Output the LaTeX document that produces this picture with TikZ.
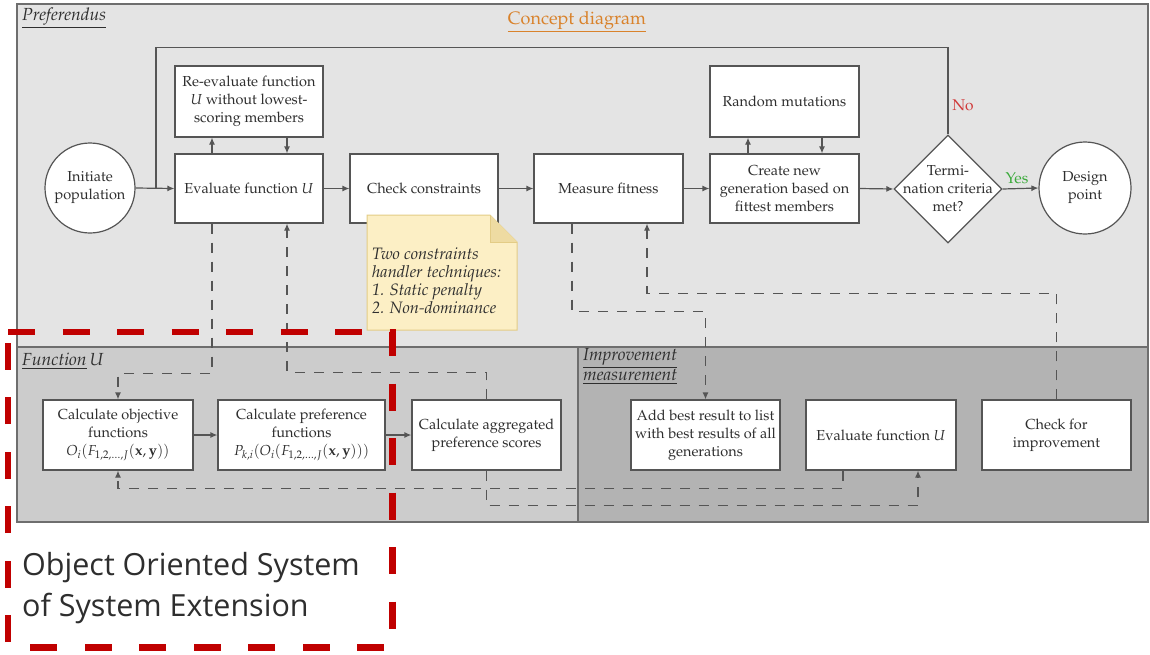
\documentclass[tikz,border=0pt]{standalone}
\usepackage{fontspec}
\newfontfamily\capfont{Open Sans}
\usepackage[T1]{fontenc}
\usepackage{mathpazo}
\usetikzlibrary{shapes.geometric,arrows.meta}

\definecolor{panelA}{HTML}{E4E4E4}
\definecolor{panelB}{HTML}{CCCCCC}
\definecolor{panelC}{HTML}{B3B3B3}
\definecolor{panelline}{HTML}{6E6E6E}
\definecolor{boxline}{HTML}{555555}
\definecolor{txt}{HTML}{2E2E2E}
\definecolor{dashclr}{HTML}{555555}
\definecolor{orangetitle}{HTML}{D9822B}
\definecolor{noteFill}{HTML}{FCEFC5}
\definecolor{noteEdge}{HTML}{E3CC86}
\definecolor{noteFold}{HTML}{EEDBA2}
\definecolor{framered}{HTML}{C00000}
\definecolor{nored}{HTML}{D03A3A}
\definecolor{yesgreen}{HTML}{3BAA3B}

\newcommand{\bodyfont}{\fontsize{14.5}{18}\selectfont}
\newcommand{\titlefont}{\fontsize{17.5}{19}\selectfont}

\begin{document}
\begin{tikzpicture}[x=1pt,y=-1pt,
  box/.style={draw=boxline, fill=white, line width=1.2pt, text=txt, align=center,
    inner sep=2pt, font=\bodyfont},
  roundnode/.style={circle, draw=boxline, fill=white, line width=1.2pt, text=txt,
    align=center, inner sep=0pt, font=\bodyfont},
  conn/.style={draw=boxline, line width=1.2pt},
  arr/.style={-{Latex[length=7pt,width=6pt]}},
  dsh/.style={draw=dashclr, line width=1.2pt, dash pattern=on 10pt off 9pt},
  lbl/.style={text=txt, font=\bodyfont, inner sep=0pt}
]
\useasboundingbox (0,0) rectangle (1150,654);
\fill[white] (0,0) rectangle (1150,654);

% panels
\fill[panelA] (17,4) rectangle (1148,347);
\fill[panelB] (17,347) rectangle (578,522);
\fill[panelC] (578,347) rectangle (1148,522);
\draw[panelline, line width=1.3pt] (17,4) rectangle (1148,522);
\draw[panelline, line width=1.3pt] (17,347) -- (1148,347);
\draw[panelline, line width=1.3pt] (578,347) -- (578,522);

% panel titles
\node[lbl, anchor=west, font=\titlefont] (tpref) at (22,18) {\underline{\textit{Preferendus}}};
\node[lbl, text=orangetitle, font=\fontsize{18}{20}\selectfont] (tconcept) at (577,22) {\underline{Concept diagram}};
\node[lbl, anchor=west, font=\titlefont] (tfunc) at (22,361) {\underline{\textit{Function}}\,$U$};
\node[lbl, anchor=north west, align=left, font=\titlefont] (timpr) at (583,348) {\underline{\textit{Improvement}}\\\underline{\textit{measurement}}};

% main loop nodes
\node[roundnode, minimum size=90pt] (init) at (90,188) {Initiate\\population};
\node[box, minimum width=148pt, minimum height=69pt] (eval) at (249,188.5) {Evaluate function $U$};
\node[box, minimum width=148pt, minimum height=71pt] (reeval) at (249,101.5) {Re-evaluate function\\$U$ without lowest-\\scoring members};
\node[box, minimum width=148pt, minimum height=69pt] (check) at (424,188.5) {Check constraints};
\node[box, minimum width=149pt, minimum height=69pt] (measure) at (608.5,188.5) {Measure fitness};
\node[box, minimum width=149pt, minimum height=69pt] (create) at (784.5,188.5) {Create new\\generation based on\\fittest members};
\node[box, minimum width=149pt, minimum height=71pt] (random) at (784.5,101.5) {Random mutations};
\node[diamond, aspect=1, draw=boxline, fill=white, line width=1.2pt, minimum size=108pt, inner sep=0pt] (term) at (948,189) {};
\node[lbl, align=center] (termtext) at (term.center) {Termi-\\nation criteria\\met?};
\node[roundnode, minimum size=92pt] (design) at (1085,188) {Design\\point};

% lower nodes
\node[box, minimum width=150pt, minimum height=70pt] (obj) at (118,435) {Calculate objective\\functions\\$O_i(F_{1,2,\ldots,J}(\mathbf{x},\mathbf{y}))$};
\node[box, minimum width=167pt, minimum height=70pt] (pref) at (301.5,435) {Calculate preference\\functions\\$P_{k,i}(O_i(F_{1,2,\ldots,J}(\mathbf{x},\mathbf{y})))$};
\node[box, minimum width=149pt, minimum height=70pt] (agg) at (486.5,435) {Calculate aggregated\\preference scores};
\node[box, minimum width=149pt, minimum height=70pt] (add) at (705.5,435) {Add best result to list\\with best results of all\\generations};
\node[box, minimum width=150pt, minimum height=70pt] (evalb) at (881,435) {Evaluate function $U$};
\node[box, minimum width=149pt, minimum height=70pt] (checkimp) at (1056.5,435) {Check for\\improvement};

% solid connectors
\coordinate (join) at (156,188);
\draw[conn, arr] (init.east) -- (eval.west);
\draw[conn] (term.north) -- ++(0,-87) -| (join);
\draw[conn, arr] (eval.east) -- (check.west);
\draw[conn, arr] (check.east) -- (measure.west);
\draw[conn, arr] (measure.east) -- (create.west);
\draw[conn, arr] (create.east) -- (term.west);
\draw[conn, arr] (term.east) -- (design.west);
\draw[conn, arr] ([xshift=-37pt]eval.north) -- ([xshift=-37pt]reeval.south);
\draw[conn, arr] ([xshift=38pt]reeval.south) -- ([xshift=38pt]eval.north);
\draw[conn, arr] ([xshift=-36.5pt]create.north) -- ([xshift=-36.5pt]random.south);
\draw[conn, arr] ([xshift=37.5pt]random.south) -- ([xshift=37.5pt]create.north);
\draw[conn, arr] (obj.east) -- (pref.west);
\draw[conn, arr] (pref.east) -- (agg.west);

\node[lbl, text=nored, font=\fontsize{15.5}{17}\selectfont] (nolbl) at (963,105) {No};
\node[lbl, text=yesgreen, font=\fontsize{15.5}{17}\selectfont] (yeslbl) at (1017,178) {Yes};

% dashed connectors
\draw[dsh, arr] ([xshift=-37pt]eval.south) -- ++(0,150) -| (obj.north);
\draw[dsh, arr] (agg.north) -- ++(0,-27) -| ([xshift=38pt]eval.south);
\draw[dsh, arr] ([xshift=-36.5pt]measure.south) -- ++(0,88) -| (add.north);
\draw[dsh, arr] (checkimp.north) -- ++(0,-106) -| ([xshift=38.5pt]measure.south);
\draw[dsh, arr] (agg.south) -- ++(0,35) -| ([xshift=37pt]evalb.south);
\draw[dsh, arr] ([xshift=-38pt]evalb.south) -- ++(0,18) -| (obj.south);

% sticky note
\fill[noteFill] (367,215) -- (490,215) -- (517,242) -- (517,330) -- (367,330) -- cycle;
\draw[noteEdge, line width=1pt] (367,215) -- (490,215) -- (517,242) -- (517,330) -- (367,330) -- cycle;
\fill[noteFold] (490,215) -- (490,242) -- (517,242) -- cycle;
\draw[noteEdge, line width=0.8pt] (490,215) -- (490,242) -- (517,242);
\node[lbl, anchor=west, align=left, font=\fontsize{16.5}{18}\selectfont\itshape] (note) at (372,281) {Two constraints\\handler techniques:\\1. Static penalty\\2. Non-dominance};

% red dashed frame
\draw[framered, line width=6.5pt, dash pattern=on 27pt off 27.5pt]
  (8,332) -- (392.5,332) -- (392.5,647.5) -- (8,647.5) -- cycle;
\node[anchor=west, align=left, inner sep=0pt, text=txt,
  font=\fontencoding{TU}\capfont\fontsize{30.5}{41}\selectfont] (caption) at (22,588)
  {Object Oriented System\\of System Extension};
\end{tikzpicture}
\end{document}
